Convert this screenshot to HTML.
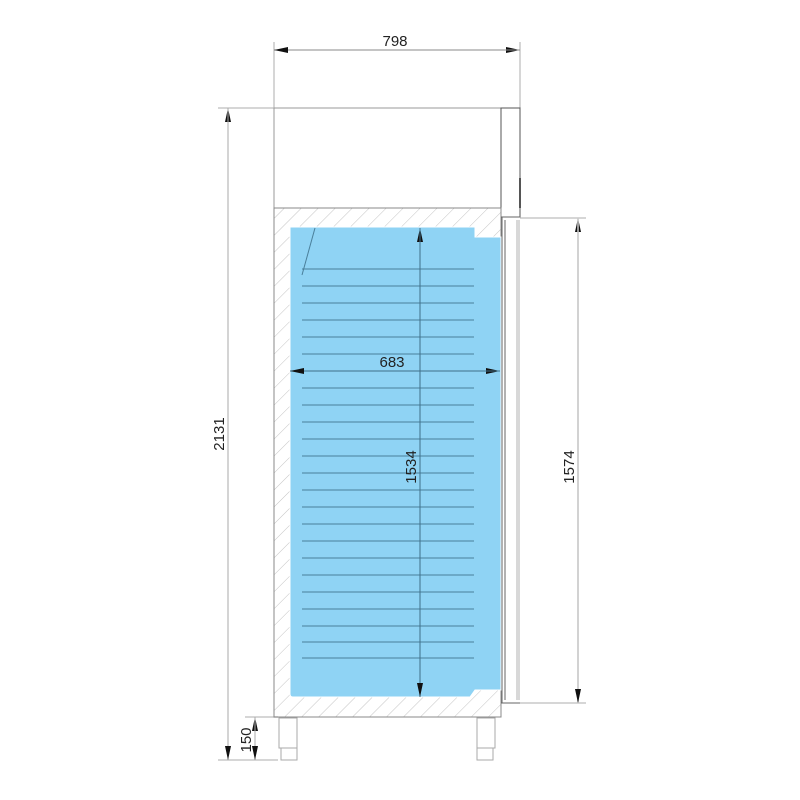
<!DOCTYPE html>
<html><head><meta charset="utf-8"><style>
html,body{margin:0;padding:0;background:#fff;}
svg{display:block;}
text{font-family:"Liberation Sans",sans-serif;font-size:15px;fill:#222;}
</style></head><body>
<svg width="800" height="800" viewBox="0 0 800 800" xmlns="http://www.w3.org/2000/svg">
<defs>
<pattern id="h" width="12" height="12" patternUnits="userSpaceOnUse" patternTransform="rotate(45)">
<line x1="0" y1="0" x2="0" y2="12" stroke="#c4c4c4" stroke-width="1"/>
</pattern>
<marker id="a" markerWidth="14" markerHeight="6" refX="14" refY="3" orient="auto" markerUnits="userSpaceOnUse">
<path d="M0,0 L14,3 L0,6 z" fill="#111"/>
</marker>
</defs>
<g stroke="#c8c8c8" stroke-width="1.5" fill="none">
<line x1="274" y1="42" x2="274" y2="108"/>
<line x1="520" y1="42" x2="520" y2="108"/>
<line x1="218" y1="108" x2="274" y2="108"/>
<line x1="218" y1="760" x2="278" y2="760"/>
<line x1="245" y1="717" x2="278" y2="717"/>
<line x1="520" y1="218" x2="586" y2="218"/>
<line x1="520" y1="703" x2="586" y2="703"/>
</g>
<rect x="274" y="108" width="227" height="100" fill="#fff" stroke="#999" stroke-width="1"/>
<rect x="501" y="108" width="19" height="109" fill="#fff" stroke="#555" stroke-width="1"/>
<line x1="520" y1="178" x2="520" y2="208" stroke="#555" stroke-width="2"/>
<rect x="274" y="208" width="227" height="509" fill="url(#h)" stroke="#888" stroke-width="1"/>
<path d="M290,227 L475,227 L475,237 L501,237 L501,690 L475,690 L470,697 L293,697 Q290,697 290,694 Z" fill="#8fd3f4" stroke="#fff" stroke-width="1"/>
<g stroke="#666" stroke-width="1" fill="none">
<line x1="502" y1="217" x2="502" y2="703"/>
<line x1="505" y1="220" x2="505" y2="700"/>
<path d="M501,217 L520,217 M501,703 L520,703"/>
</g>
<rect x="516" y="220" width="4" height="480" fill="#d8d8d8"/>
<g stroke="#4a7f9a" stroke-width="1">
<line x1="315" y1="228" x2="302" y2="275"/>
<line x1="302" y1="269" x2="474" y2="269"/><line x1="302" y1="286" x2="474" y2="286"/><line x1="302" y1="303" x2="474" y2="303"/><line x1="302" y1="320" x2="474" y2="320"/><line x1="302" y1="337" x2="474" y2="337"/><line x1="302" y1="354" x2="474" y2="354"/><line x1="302" y1="388" x2="474" y2="388"/><line x1="302" y1="405" x2="474" y2="405"/><line x1="302" y1="422" x2="474" y2="422"/><line x1="302" y1="439" x2="474" y2="439"/><line x1="302" y1="456" x2="474" y2="456"/><line x1="302" y1="473" x2="474" y2="473"/><line x1="302" y1="490" x2="474" y2="490"/><line x1="302" y1="507" x2="474" y2="507"/><line x1="302" y1="524" x2="474" y2="524"/><line x1="302" y1="541" x2="474" y2="541"/><line x1="302" y1="558" x2="474" y2="558"/><line x1="302" y1="575" x2="474" y2="575"/><line x1="302" y1="592" x2="474" y2="592"/><line x1="302" y1="609" x2="474" y2="609"/><line x1="302" y1="626" x2="474" y2="626"/><line x1="302" y1="642" x2="474" y2="642"/><line x1="302" y1="658" x2="474" y2="658"/>
</g>
<g stroke="#aaa" stroke-width="1" fill="#fff">
<rect x="279" y="718" width="18" height="30"/><rect x="281" y="748" width="16" height="12"/>
<rect x="477" y="718" width="18" height="30"/><rect x="477" y="748" width="16" height="12"/>
</g>
<g fill="none">
<line x1="274" y1="50" x2="520" y2="50" stroke="#888" marker-end="url(#a)"/>
<line x1="520" y1="50" x2="274" y2="50" stroke="#888" marker-end="url(#a)"/>
<line x1="228" y1="760" x2="228" y2="108" stroke="#aaa" marker-end="url(#a)"/>
<line x1="228" y1="108" x2="228" y2="760" stroke="#aaa" marker-end="url(#a)"/>
<line x1="255" y1="760" x2="255" y2="717" stroke="#aaa" marker-end="url(#a)"/>
<line x1="255" y1="717" x2="255" y2="760" stroke="#aaa" marker-end="url(#a)"/>
<line x1="578" y1="703" x2="578" y2="218" stroke="#ccc" stroke-width="1.5" marker-end="url(#a)"/>
<line x1="578" y1="218" x2="578" y2="703" stroke="#ccc" stroke-width="1.5" marker-end="url(#a)"/>
<line x1="290" y1="371" x2="500" y2="371" stroke="#3f6f88" marker-end="url(#a)"/>
<line x1="500" y1="371" x2="290" y2="371" stroke="#3f6f88" marker-end="url(#a)"/>
<line x1="420" y1="697" x2="420" y2="228" stroke="#3f6f88" marker-end="url(#a)"/>
<line x1="420" y1="228" x2="420" y2="697" stroke="#3f6f88" marker-end="url(#a)"/>
</g>
<text x="395" y="46" text-anchor="middle">798</text>
<text x="392" y="367" text-anchor="middle">683</text>
<text transform="translate(224,434) rotate(-90)" text-anchor="middle">2131</text>
<text transform="translate(251,740) rotate(-90)" text-anchor="middle">150</text>
<text transform="translate(574,467) rotate(-90)" text-anchor="middle">1574</text>
<text transform="translate(416,467) rotate(-90)" text-anchor="middle">1534</text>
</svg>
</body></html>
